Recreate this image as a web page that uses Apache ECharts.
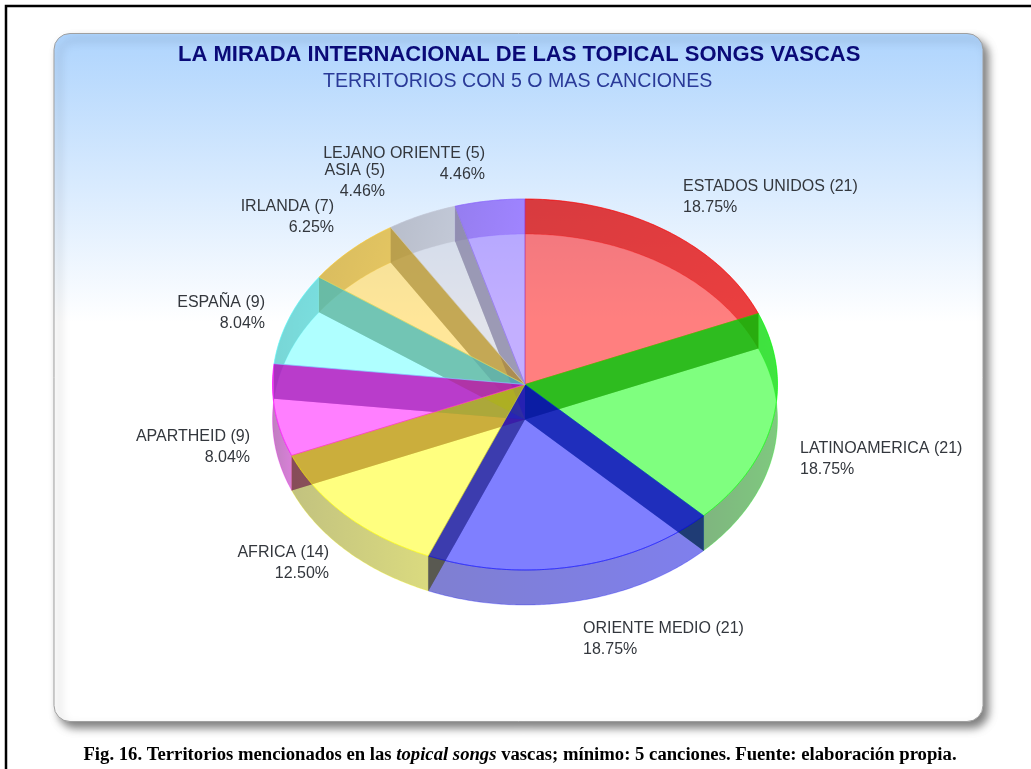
<!DOCTYPE html>
<html><head><meta charset="utf-8">
<style>html,body{margin:0;padding:0;background:#fff}#c{width:1031px;height:769px}</style>
<script src="https://cdn.jsdelivr.net/npm/echarts@6/dist/echarts.min.js"></script>
</head><body><div id="c"></div>
<script>
var categories = ['ESTADOS UNIDOS','LATINOAMERICA','ORIENTE MEDIO','AFRICA','APARTHEID','ESPAÑA','IRLANDA','ASIA','LEJANO ORIENTE'];
var songs = [21,21,21,14,9,9,7,5,5];
var baseColors = [[255,0,0],[0,255,0],[0,0,255],[255,255,0],[255,0,255],[95,255,255],[255,205,51],[195,200,215],[135,95,255]];
var wallShade = [.6,.5,.75,.62,.6,.42,.55,.7,.9];
var labelSpots = [[683,186,'left'],[800,448,'left'],[583,628,'left'],[329,552,'right'],[250,436,'right'],[265,302,'right'],[334,206,'right'],[385,170,'right'],[485,153,'right']];
var chartTitle = 'LA MIRADA INTERNACIONAL DE LAS TOPICAL SONGS VASCAS';
var chartSubtitle = 'TERRITORIOS CON 5 O MAS CANCIONES';

var geo = {cx:525, cy:384.5, rx:252.5, ry:185.5, depth:35};
var total = songs.reduce(function(a,b){return a+b;},0);
var starts = [], acc = 0;
songs.forEach(function(v){starts.push(acc); acc += v;});
function ang(v){return v/total*Math.PI*2;}
function pt(t,dy){return [geo.cx+geo.rx*Math.sin(t), geo.cy-geo.ry*Math.cos(t)+(dy||0)];}
function arc(a,b,dy){var n=Math.max(2,Math.ceil((b-a)/0.01)),r=[];for(var i=0;i<=n;i++)r.push(pt(a+(b-a)*i/n,dy));return r;}
function rgba(c,f,a){return 'rgba('+Math.round(c[0]*f)+','+Math.round(c[1]*f)+','+Math.round(c[2]*f)+','+a+')';}
var sideShade = .45, alpha = .5;

function layer(name,z,render){
  return {type:'custom',name:name,coordinateSystem:'none',z:z,silent:true,animation:false,clip:false,
    data:songs.map(function(v,i){return [i,v];}),
    encode:{value:1},
    renderItem:function(params,api){return render(api.value(0),api.value(1));}};
}
function span(i,v){return [ang(starts[i]),ang(starts[i]+v)];}
function wall(i,v){
  var s=span(i,v),c=baseColors[i],k=wallShade[i];
  var top=arc(s[0],s[1],0),bot=arc(s[0],s[1],geo.depth).reverse();
  var xs=top.map(function(p){return p[0];});
  var x0=Math.min.apply(null,xs),x1=Math.max.apply(null,xs);
  return {type:'polygon',shape:{points:top.concat(bot)},
     style:{fill:new echarts.graphic.LinearGradient(x0,0,x1,0,[
        {offset:0,color:rgba(c,k*.85,alpha)},{offset:1,color:rgba(c,k*1.15,alpha)}],true),
       stroke:rgba(c,1,.25),lineWidth:1}};
}
function sides(i,v){
  var s=span(i,v),c=baseColors[i],ch=[];
  [s[0],s[1]].forEach(function(t){
    ch.push({type:'polygon',shape:{points:[pt(t,0),pt(t,geo.depth),[geo.cx,geo.cy+geo.depth],[geo.cx,geo.cy]]},
      style:{fill:rgba(c,sideShade,alpha)}});
  });
  return {type:'group',children:ch};
}
function topFace(i,v){
  var s=span(i,v),c=baseColors[i];
  return {type:'polygon',shape:{points:[[geo.cx,geo.cy]].concat(arc(s[0],s[1],0))},
    style:{fill:rgba(c,1,alpha),stroke:rgba(c,1,.5),lineWidth:1}};
}
function label(i,v){
  var p=labelSpots[i];
  return {type:'text',x:p[0],y:p[1]-10,style:{
    text:categories[i]+' ('+v+')\n'+(v/total*100).toFixed(2)+'%',
    fill:'#33373d',font:'16px "Liberation Sans"',lineHeight:21,align:p[2],verticalAlign:'top'}};
}

var chart = echarts.init(document.getElementById('c'),null,{renderer:'canvas'});
chart.setOption({
  animation:false,
  backgroundColor:'#fff',
  title:[
    {text:chartTitle,left:178,top:44,textStyle:{fontFamily:'Liberation Sans',fontWeight:'bold',fontSize:22,color:'#0a0a78'},padding:0},
    {text:chartSubtitle,left:323,top:72,textStyle:{fontFamily:'Liberation Sans',fontWeight:'normal',fontSize:19.6,color:'#2a3a98'},padding:0}
  ],
  graphic:[
    {type:'rect',z:-3,shape:{x:6,y:6,width:1040,height:790},style:{fill:'#fff',stroke:'#000',lineWidth:2.5}},
    {type:'rect',z:-2,shape:{x:54,y:33.5,width:929,height:688,r:16},
     style:{fill:new echarts.graphic.LinearGradient(0,0,0,1,[
       {offset:0,color:'#aed4fd'},{offset:.42,color:'#ffffff'},{offset:1,color:'#ffffff'}]),
       stroke:'#a0a0a0',lineWidth:1,shadowColor:'rgba(0,0,0,.5)',shadowBlur:9,shadowOffsetX:5,shadowOffsetY:6}},
    {type:'text',z:5,x:520,y:746,style:{
      rich:{b:{font:'bold 18.7px "Liberation Serif"',fill:'#000'},i:{font:'italic bold 18.7px "Liberation Serif"',fill:'#000'}},
      text:'{b|Fig. 16. Territorios mencionados en las }{i|topical songs}{b| vascas; mínimo: 5 canciones. Fuente: elaboración propia.}',
      align:'center',fill:'#000'}}
  ],
  series:[layer('wall',2,wall),layer('sides',3,sides),layer('top',4,topFace),layer('labels',5,label)]
});
</script></body></html>
